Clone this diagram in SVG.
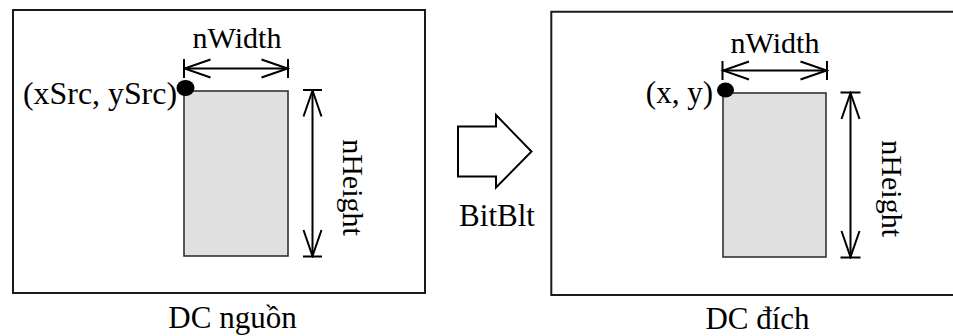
<svg xmlns="http://www.w3.org/2000/svg" width="953" height="336" viewBox="0 0 953 336">
  <style>
    .frame { fill: #ffffff; stroke: #1a1a1a; stroke-width: 2; }
    .area { fill: #e0e0e0; stroke: #333333; stroke-width: 1.6; }
    .dim { fill: none; stroke: #000000; stroke-width: 2; }
    .tick { fill: none; stroke: #000000; stroke-width: 2; }
    .pt { fill: #000000; }
    .lbl { font-family: "Liberation Serif", "Times New Roman", serif; font-size: 31px; fill: #000000; }
    .dimlbl { font-family: "Liberation Serif", "Times New Roman", serif; font-size: 30px; fill: #000000; }
    .flow { fill: #ffffff; stroke: #000000; stroke-width: 2; stroke-linejoin: miter; }
  </style>
  <defs>
    <!-- open V arrowhead for dimension lines -->
    <marker id="openHead" markerUnits="userSpaceOnUse" viewBox="-30 -12 32 24" refX="0" refY="0" markerWidth="32" markerHeight="24" orient="auto-start-reverse">
      <path d="M-26,-9 L0,0 L-26,9" fill="none" stroke="#000000" stroke-width="2"/>
    </marker>
  </defs>

  <rect width="953" height="336" fill="#ffffff"/>

  <!-- source device context -->
  <g id="dc-source">
    <rect class="frame" x="13" y="10" width="412" height="283"/>
    <rect class="area" x="184" y="91" width="104" height="165"/>
    <ellipse class="pt" cx="185.5" cy="88" rx="9" ry="8"/>
    <text class="lbl" x="177" y="104" text-anchor="end" textLength="154" lengthAdjust="spacingAndGlyphs">(xSrc, ySrc)</text>
    <text class="dimlbl" x="237" y="48" text-anchor="middle">nWidth</text>
    <text class="dimlbl" transform="translate(343,187.5) rotate(90)" text-anchor="middle">nHeight</text>
    <text class="lbl" x="232.5" y="328" text-anchor="middle">DC nguồn</text>
  </g>

  <!-- destination device context -->
  <g id="dc-dest">
    <path class="frame" d="M955,11.7 L551.3,11.7 L551.3,295 L955,295"/>
    <rect class="area" x="723" y="93" width="103" height="164"/>
    <ellipse class="pt" cx="725.5" cy="90" rx="8.5" ry="7.5"/>
    <text class="lbl" x="713" y="102.5" text-anchor="end">(x, y)</text>
    <text class="dimlbl" x="775" y="52.5" text-anchor="middle">nWidth</text>
    <text class="dimlbl" transform="translate(882,188.7) rotate(90)" text-anchor="middle">nHeight</text>
    <text class="lbl" x="757.5" y="328.5" text-anchor="middle">DC đích</text>
  </g>

  <!-- BitBlt transfer arrow -->
  <g id="bitblt">
    <polygon class="flow" points="458,126.5 496,126.5 496,115 531.5,151.5 496,187.5 496,176.5 458,176.5"/>
    <text class="lbl" x="497" y="226" text-anchor="middle">BitBlt</text>
  </g>

  <!-- dimension lines -->
  <g id="connectors">
    <path class="tick" d="M184,59 V78 M288,59 V78"/>
    <line class="dim" x1="184.5" y1="68.5" x2="287.5" y2="68.5" marker-start="url(#openHead)" marker-end="url(#openHead)"/>
    <path class="tick" d="M303,90 H322 M303,256.5 H322"/>
    <line class="dim" x1="312.5" y1="90.5" x2="312.5" y2="256" marker-start="url(#openHead)" marker-end="url(#openHead)"/>

    <path class="tick" d="M722.5,61 V80 M827,61 V80"/>
    <line class="dim" x1="723" y1="70.5" x2="826.5" y2="70.5" marker-start="url(#openHead)" marker-end="url(#openHead)"/>
    <path class="tick" d="M840.5,92.5 H860.5 M840.5,257.5 H860.5"/>
    <line class="dim" x1="850.5" y1="93" x2="850.5" y2="257" marker-start="url(#openHead)" marker-end="url(#openHead)"/>
  </g>
</svg>
